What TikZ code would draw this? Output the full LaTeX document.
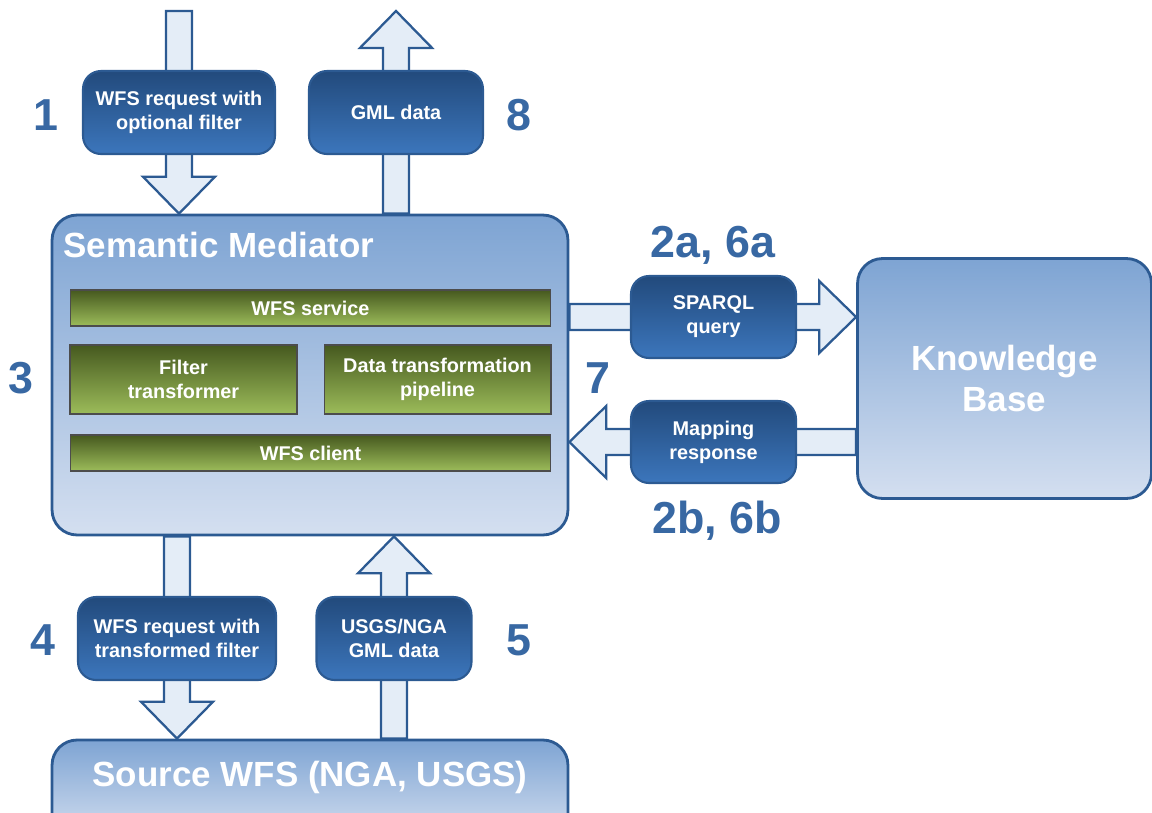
\documentclass[tikz,border=0pt]{standalone}
\usepackage{fontspec}
\setmainfont{Liberation Sans}
\usetikzlibrary{calc}

\definecolor{edgeblue}{HTML}{2C5A92}
\definecolor{bigtop}{HTML}{7EA4D3}
\definecolor{bigbot}{HTML}{D4DFF0}
\definecolor{darktop}{HTML}{224A7C}
\definecolor{darkbot}{HTML}{3C76BC}
\definecolor{greentop}{HTML}{46591F}
\definecolor{greenbot}{HTML}{9CBC5A}
\definecolor{arrowfill}{HTML}{E4EDF7}
\definecolor{numblue}{HTML}{3868A3}

\begin{document}
\begin{tikzpicture}[x=0.02cm,y=-0.02cm,
  bigbox/.style={draw=edgeblue,line width=1.6pt,rounded corners=0.5cm,
    top color=bigtop,bottom color=bigbot},
  bigtext/.style={text=white,font=\fontsize{19.9}{23.8}\selectfont\bfseries,align=center,inner sep=0pt},
  greenbox/.style={draw=black!70,line width=0.6pt,top color=greentop,bottom color=greenbot,
    text=white,font=\fontsize{11.3}{13.6}\selectfont\bfseries,align=center},
  darkbox/.style={draw=edgeblue,line width=1.2pt,rounded corners=0.36cm,
    top color=darktop,bottom color=darkbot,minimum height=1.66cm,
    text=white,font=\fontsize{11.3}{13.6}\selectfont\bfseries,align=center},
  stepnum/.style={text=numblue,font=\fontsize{25.5}{30}\selectfont\bfseries,inner sep=0pt},
  fat/.style={draw=edgeblue,fill=arrowfill,line width=1.3pt,line join=miter,
    to path={let \p1=(\tikztostart), \p2=(\tikztotarget),
      \n1={atan2(\y2-\y1,\x2-\x1)}, \n2={veclen(\x2-\x1,\y2-\y1)-21} in
      ($(\p1)+({\n1+90}:7.4pt)$) -- ++({\n1}:{\n2}) -- ++({\n1+90}:13.1pt) -- (\p2)
      -- ($(\p1)+({\n1}:{\n2})+({\n1-90}:20.5pt)$) -- ++({\n1+90}:13.1pt)
      -- ($(\p1)+({\n1-90}:7.4pt)$) -- cycle}}]
\useasboundingbox (0,0) rectangle (1152,812);

% big boxes
\node[bigbox,minimum width=10.32cm,minimum height=6.4cm] (med) at (310,375) {};
\node[bigtext,anchor=west] (medtitle) at (63,245) {Semantic Mediator};
\node[greenbox,minimum width=9.62cm,minimum height=0.72cm] (service) at (310.5,308) {WFS service};
\node[greenbox,minimum width=4.54cm,minimum height=1.38cm] (filter) at (183.5,379.5) {Filter\\transformer};
\node[greenbox,minimum width=4.54cm,minimum height=1.38cm] (pipeline) at (437.5,379.5) {Data transformation\\pipeline};
\node[greenbox,minimum width=9.62cm,minimum height=0.72cm] (client) at (310.5,453) {WFS client};

\node[bigbox,minimum width=5.88cm,minimum height=4.8cm] (kb) at (1004.5,378.5) {};
\node[bigtext] (kbtext) at (1004.5,378.5) {Knowledge\\Base};

\node[bigbox,minimum width=10.32cm,minimum height=2cm] (src) at (310,790) {};
\node[bigtext] (srctext) at (310,777) {Source WFS (NGA, USGS)};

% message boxes go on top of the arrows, so place them first and draw later
\path (179,112.5) coordinate (p1) (396,112.5) coordinate (p8)
      (177,638.5) coordinate (p4) (394,638.5) coordinate (p5)
      (713.5,317) coordinate (p2a) (713.5,442) coordinate (p2b);
\coordinate (in1) at (p1 |- 0,11);
\coordinate (out8) at (p8 |- 0,11);

% arrows
\draw[fat] (in1) to (med.north -| p1);
\draw[fat] (med.north -| p8) to (out8);
\draw[fat] (med.south -| p4) to (src.north -| p4);
\draw[fat] (src.north -| p5) to (med.south -| p5);
\draw[fat] (med.east |- p2a) to (kb.west |- p2a);
\draw[fat] (kb.west |- p2b) to (med.east |- p2b);

% messages
\node[darkbox,minimum width=3.84cm] (req) at (p1) {WFS request with\\optional filter};
\node[darkbox,minimum width=3.48cm] (gml) at (p8) {GML data};
\node[darkbox,minimum width=3.96cm] (treq) at (p4) {WFS request with\\transformed filter};
\node[darkbox,minimum width=3.10cm] (sgml) at (p5) {USGS/NGA\\GML data};
\node[darkbox,minimum width=3.30cm,minimum height=1.64cm] (sparql) at (p2a) {SPARQL\\query};
\node[darkbox,minimum width=3.30cm,minimum height=1.64cm] (mapping) at (p2b) {Mapping\\response};

% step numbers
\node[stepnum] (n1) at (46,115) {1};
\node[stepnum] (n8) at (519,115) {8};
\node[stepnum] (n3) at (21,378) {3};
\node[stepnum] (n7) at (598,378) {7};
\node[stepnum] (n4) at (43,640) {4};
\node[stepnum] (n5) at (519,640) {5};
\node[stepnum] (n2a) at (713,245) {2a, 6a};
\node[stepnum] (n2b) at (717,521) {2b, 6b};
\end{tikzpicture}
\end{document}
